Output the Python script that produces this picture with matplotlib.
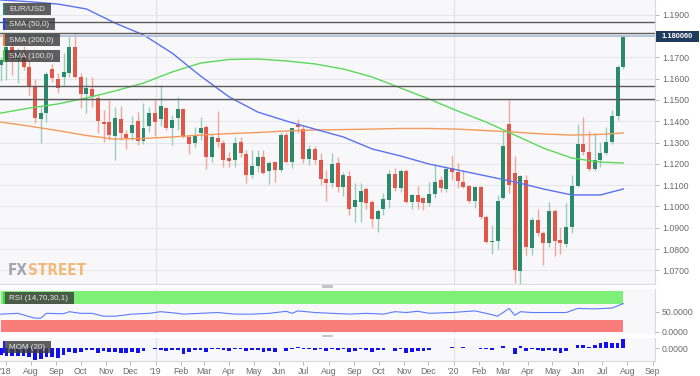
import matplotlib
matplotlib.use('Agg')
import matplotlib.pyplot as plt
import matplotlib.dates as mdates
from matplotlib.patches import Rectangle
from matplotlib import font_manager as fm
import numpy as np
import pandas as pd

# ---------------- data (weekly EUR/USD) ----------------
start_week = '2018-06-25'
opens = [1.1662, 1.1686, 1.1747, 1.1690, 1.1720, 1.1656, 1.1562, 1.1410, 1.1440, 1.1645,
         1.1598, 1.1609, 1.1625, 1.1750, 1.1606, 1.1526, 1.1551, 1.1510, 1.1398, 1.1395,
         1.1331, 1.1412, 1.1338, 1.1343, 1.1401, 1.1307, 1.1378, 1.1440, 1.1409, 1.1461,
         1.1367, 1.1414, 1.1456, 1.1324, 1.1296, 1.1343, 1.1374, 1.1233, 1.1319, 1.1299,
         1.1226, 1.1218, 1.1304, 1.1246, 1.1147, 1.1190, 1.1234, 1.1165, 1.1210, 1.1171,
         1.1334, 1.1210, 1.1380, 1.1365, 1.1225, 1.1271, 1.1218, 1.1127, 1.1111, 1.1205,
         1.1093, 1.1142, 1.0996, 1.1022, 1.1082, 1.1022, 1.0940, 1.0986, 1.1030, 1.1150,
         1.1085, 1.1166, 1.1022, 1.1054, 1.1038, 1.1017, 1.1058, 1.1124, 1.1080, 1.1179,
         1.1163, 1.1116, 1.1096, 1.1027, 1.1090, 1.0949, 1.0834, 1.0839, 1.1040, 1.1387,
         1.1156, 1.0698, 1.1124, 1.0807, 1.0937, 1.0874, 1.0827, 1.0980, 1.0842, 1.0823,
         1.0902, 1.1097, 1.1292, 1.1257, 1.1176, 1.1218, 1.1249, 1.1301, 1.1426, 1.1656]
highs = [1.1700, 1.1758, 1.1780, 1.1745, 1.1755, 1.1700, 1.1600, 1.1468, 1.1630, 1.1670,
         1.1625, 1.1719, 1.1805, 1.1813, 1.1625, 1.1609, 1.1609, 1.1523, 1.1455, 1.1500,
         1.1468, 1.1472, 1.1359, 1.1424, 1.1443, 1.1486, 1.1468, 1.1500, 1.1570, 1.1468,
         1.1429, 1.1514, 1.1460, 1.1335, 1.1374, 1.1420, 1.1380, 1.1339, 1.1449, 1.1312,
         1.1255, 1.1324, 1.1324, 1.1263, 1.1265, 1.1264, 1.1263, 1.1215, 1.1215, 1.1348,
         1.1348, 1.1370, 1.1412, 1.1380, 1.1287, 1.1282, 1.1250, 1.1170, 1.1250, 1.1230,
         1.1160, 1.1165, 1.1112, 1.1110, 1.1090, 1.1030, 1.0990, 1.1063, 1.1172, 1.1179,
         1.1175, 1.1176, 1.1060, 1.1097, 1.1045, 1.1117, 1.1200, 1.1144, 1.1190, 1.1239,
         1.1205, 1.1173, 1.1100, 1.1097, 1.1095, 1.0960, 1.0911, 1.1053, 1.1355, 1.1500,
         1.1236, 1.1147, 1.1147, 1.0952, 1.0990, 1.0887, 1.1019, 1.0990, 1.0905, 1.1017,
         1.1147, 1.1386, 1.1421, 1.1355, 1.1346, 1.1303, 1.1371, 1.1453, 1.1665, 1.1802]
lows = [1.1590, 1.1593, 1.1615, 1.1578, 1.1640, 1.1523, 1.1390, 1.1300, 1.1398, 1.1585,
        1.1531, 1.1570, 1.1609, 1.1601, 1.1460, 1.1437, 1.1468, 1.1343, 1.1304, 1.1312,
        1.1218, 1.1312, 1.1269, 1.1312, 1.1287, 1.1293, 1.1350, 1.1331, 1.1378, 1.1359,
        1.1289, 1.1359, 1.1322, 1.1245, 1.1278, 1.1312, 1.1176, 1.1210, 1.1281, 1.1183,
        1.1183, 1.1183, 1.1230, 1.1110, 1.1135, 1.1160, 1.1150, 1.1107, 1.1116, 1.1160,
        1.1202, 1.1181, 1.1345, 1.1206, 1.1193, 1.1200, 1.1101, 1.1027, 1.1093, 1.1066,
        1.1050, 1.0960, 1.0926, 1.0927, 1.0990, 1.0905, 1.0879, 1.0960, 1.0995, 1.1072,
        1.1070, 1.1014, 1.0989, 1.0990, 1.0981, 1.1000, 1.1040, 1.1066, 1.1070, 1.1125,
        1.1085, 1.1086, 1.1018, 1.0992, 1.0940, 1.0827, 1.0778, 1.0800, 1.1037, 1.1062,
        1.0640, 1.0636, 1.0772, 1.0770, 1.0860, 1.0727, 1.0811, 1.0766, 1.0775, 1.0812,
        1.0875, 1.1090, 1.1240, 1.1168, 1.1168, 1.1185, 1.1240, 1.1294, 1.1406, 1.1644]
closes = [1.1686, 1.1747, 1.1690, 1.1720, 1.1656, 1.1562, 1.1414, 1.1440, 1.1622, 1.1601,
          1.1554, 1.1630, 1.1750, 1.1606, 1.1526, 1.1557, 1.1518, 1.1402, 1.1387, 1.1336,
          1.1417, 1.1343, 1.1320, 1.1381, 1.1309, 1.1370, 1.1440, 1.1398, 1.1471, 1.1367,
          1.1406, 1.1456, 1.1324, 1.1293, 1.1335, 1.1367, 1.1233, 1.1327, 1.1304, 1.1218,
          1.1215, 1.1299, 1.1249, 1.1147, 1.1190, 1.1234, 1.1158, 1.1205, 1.1171, 1.1334,
          1.1210, 1.1369, 1.1372, 1.1225, 1.1271, 1.1220, 1.1127, 1.1108, 1.1199, 1.1093,
          1.1146, 1.0989, 1.1030, 1.1074, 1.1017, 1.0940, 1.0980, 1.1033, 1.1150, 1.1085,
          1.1166, 1.1022, 1.1054, 1.1022, 1.1017, 1.1058, 1.1116, 1.1085, 1.1174, 1.1163,
          1.1121, 1.1093, 1.1027, 1.1090, 1.0949, 1.0834, 1.0840, 1.1027, 1.1286, 1.1100,
          1.0701, 1.1143, 1.0811, 1.0937, 1.0874, 1.0827, 1.0980, 1.0839, 1.0827, 1.0902,
          1.1097, 1.1292, 1.1257, 1.1175, 1.1218, 1.1249, 1.1301, 1.1426, 1.1656, 1.1800]

# moving averages read at sampled weeks
sma_idx = [0, 5, 10, 15, 20, 25, 30, 35, 40, 45, 50, 55, 60, 65, 70, 75, 80, 85, 90, 95, 100, 105, 109]
sma50 = [1.1969, 1.1961, 1.1950, 1.1927, 1.1861, 1.1805, 1.1720, 1.1612, 1.1514, 1.1443, 1.1401, 1.1363,
         1.1326, 1.1270, 1.1237, 1.1199, 1.1171, 1.1143, 1.1115, 1.1082, 1.1054, 1.1054, 1.1082]
sma100 = [1.1438, 1.1462, 1.1481, 1.1509, 1.1542, 1.1579, 1.1631, 1.1673, 1.1690, 1.1692, 1.1683, 1.1669,
          1.1645, 1.1608, 1.1556, 1.1504, 1.1448, 1.1396, 1.1335, 1.1274, 1.1227, 1.1208, 1.1204]
sma200 = [1.1396, 1.1377, 1.1356, 1.1333, 1.1316, 1.1319, 1.1326, 1.1335, 1.1342, 1.1347, 1.1354, 1.1359,
          1.1361, 1.1363, 1.1366, 1.1366, 1.1363, 1.1356, 1.1349, 1.1340, 1.1335, 1.1338, 1.1345]

# horizontal levels
levels_dark = [1.1865, 1.1813, 1.1565, 1.1503]
last_price = 1.1800
last_label = '1.180060'

# RSI readings
rsi_idx = [0, 3, 6, 7, 8, 11, 12, 14, 16, 18, 20, 23, 26, 28, 31, 32, 35, 38, 41, 44, 47, 50, 51, 52,
           55, 58, 61, 64, 67, 69, 71, 73, 75, 79, 83, 85, 87, 89, 90, 91, 93, 95, 97, 99, 101, 104, 107, 109]
rsi_val = [44, 46, 34, 34, 46, 45, 50, 46, 46, 39, 39, 44, 46, 50, 46, 44, 46, 48, 44, 44, 46, 51, 46, 52,
           48, 46, 44, 46, 44, 50, 48, 51, 46, 48, 52, 46, 39, 58, 41, 50, 48, 48, 48, 48, 58, 57, 59, 70]

# Momentum(20): first 20 bars, rest from closes
mom_first = [-0.055, -0.062, -0.060, -0.060, -0.065, -0.072, -0.090, -0.088, -0.066, -0.072,
             -0.074, -0.052, -0.030, -0.035, -0.028, -0.014, -0.016, -0.035, -0.022, -0.032]

month_labels = ["'18", 'Aug', 'Sep', 'Oct', 'Nov', 'Dec', "'19", 'Feb', 'Mar', 'Apr', 'May', 'Jun', 'Jul',
                'Aug', 'Sep', 'Oct', 'Nov', 'Dec', "'20", 'Feb', 'Mar', 'Apr', 'May', 'Jun', 'Jul', 'Aug', 'Sep']

legend_names = ['EUR/USD', 'SMA (50,0)', 'SMA (200,0)', 'SMA (100,0)', 'RSI (14,70,30,1)', 'MOM (20)']

# ---------------- figure ----------------
W, H = 700, 376
plt.rcParams['font.family'] = ['Liberation Sans', 'DejaVu Sans']
fig = plt.figure(figsize=(7, 3.76), dpi=100)
fig.patch.set_facecolor('white')


def axes_px(x0, y0, x1, y1):
    return fig.add_axes([x0 / W, 1 - y1 / H, (x1 - x0) / W, (y1 - y0) / H])


ax = axes_px(0, 0, 655, 284)
axr = axes_px(0, 289, 655, 334)
axm = axes_px(0, 338, 655, 361)

o = np.array(opens); h = np.array(highs); l = np.array(lows); c = np.array(closes)
weeks = pd.date_range(start_week, periods=len(c), freq='7D')
xd = mdates.date2num(weeks)
px_per_day = 0.816
x_left = xd[0] - 0.7 / px_per_day
x_right = x_left + 655 / px_per_day

bg = '#f8f8fa'
grid_c = '#e6e6ea'
for a in (ax, axr, axm):
    a.set_facecolor(bg)
    a.set_xlim(x_left, x_right)
    for s in ('top', 'left', 'bottom'):
        a.spines[s].set_visible(False)
    a.spines['right'].set_color('#d8d8de')
    a.spines['right'].set_linewidth(0.8)
    a.yaxis.tick_right()
    a.tick_params(axis='y', direction='out', length=3, width=0.6, color='#b0b0b0',
                  labelsize=6.3, labelcolor='#6a6a6a', pad=2)
    a.tick_params(axis='x', bottom=False, labelbottom=False)
    for yr in ('2019-01-01', '2020-01-01'):
        a.axvline(mdates.date2num(pd.Timestamp(yr)), color='#e2e2e6', lw=0.8, zorder=0)

ax.spines['bottom'].set_visible(True)
ax.spines['bottom'].set_color('#dcdce0')
ax.spines['bottom'].set_linewidth(0.8)

# --- main price panel ---
ax.set_ylim(1.0636, 1.1969)
yt = np.round(np.arange(1.07, 1.1901, 0.01), 2)
ax.set_yticks(yt)
# the 1.1800 label sits under the last-price tag
ax.set_yticklabels(['' if abs(v - 1.18) < 1e-9 else f'{v:.4f}' for v in yt])
ax.grid(axis='y', color=grid_c, lw=0.8, zorder=0)
ax.set_axisbelow(True)

up = c >= o
body_col = np.where(up, '#2b8a6c', '#e1584a')
wick_col = np.where(up, '#98cdb9', '#f1a69d')
ax.vlines(xd, l, h, colors=wick_col, lw=1.0, zorder=2)
body_h = np.maximum(np.abs(c - o), 0.00035)
ax.bar(xd, body_h, bottom=np.minimum(o, c), width=4.9, color=body_col, linewidth=0, zorder=3)

sx = mdates.date2num(weeks[sma_idx])
ax.plot(sx, sma200, color='#f39a5c', lw=1.0, zorder=4)
ax.plot(sx, sma100, color='#5ad85a', lw=1.0, zorder=4)
ax.plot(sx, sma50, color='#5a72f0', lw=1.0, zorder=4)

for lv in levels_dark:
    ax.axhline(lv, color='#5a5a5a', lw=1.0, zorder=5)
ax.axhline(last_price, color='#b4c4dc', lw=1.4, zorder=5)

# --- RSI panel ---
axr.set_ylim(-5, 106)
axr.fill_between([xd[0], xd[-1]], 70, 100, color='#7ef07a', lw=0, zorder=1)
axr.fill_between([xd[0], xd[-1]], 0, 30, color='#f87d7a', lw=0, zorder=1)
axr.plot(mdates.date2num(weeks[rsi_idx]), rsi_val, color='#5a7bff', lw=0.8, zorder=3)
axr.set_yticks([0, 50])
axr.set_yticklabels(['0.0000', '50.0000'])

# --- Momentum panel ---
mom = np.concatenate([np.array(mom_first), c[20:] - c[:-20]])
axm.set_ylim(-0.100, 0.077)
axm.bar(xd, mom, width=4.6, color='#1010f0', linewidth=0, zorder=3)
axm.set_yticks([0])
axm.set_yticklabels(['0.0000'])
axm.spines['bottom'].set_visible(True)
axm.spines['bottom'].set_color('#d8d8de')
mt = pd.date_range('2018-07-01', periods=len(month_labels), freq='MS')
axm.set_xticks(mdates.date2num(mt))
axm.set_xticklabels(month_labels)
axm.tick_params(axis='x', bottom=True, labelbottom=True, direction='out', length=3, width=0.6,
                color='#b0b0b0', labelsize=6.3, labelcolor='#6a6a6a', pad=1.5)
for t in axm.get_xticklabels():
    t.set_clip_on(False)

# ---------------- overlays in pixel coordinates ----------------
def rect_px(x0, y0, x1, y1, **kw):
    fig.add_artist(Rectangle((x0 / W, 1 - y1 / H), (x1 - x0) / W, (y1 - y0) / H,
                             transform=fig.transFigure, **kw))


def text_px(x, y, s, **kw):
    return fig.text(x / W, 1 - y / H, s, **kw)


renderer = fig.canvas.get_renderer()

legend_cols = ['#2b8a6c', '#2040ff', '#f07a30', '#3ed43e', '#30e030', '#2020ff']
legend_y = [(2.5, 15), (18.5, 30), (33.5, 46), (49.5, 62), (292, 304), (340.5, 353)]
legend_minw = [49, 52, 55, 55, 66, 49]
for name, col, (y0, y1), mw in zip(legend_names, legend_cols, legend_y, legend_minw):
    t = text_px(9, (y0 + y1) / 2 + 0.3, name, color='#e8e8e8', fontsize=5.8, va='center', ha='left', zorder=12)
    tw = t.get_window_extent(renderer).x1
    x1 = max(mw, tw + 6)
    rect_px(2.5, y0, x1, y1, facecolor='#3c3c3c', alpha=0.82, edgecolor='none', zorder=10)
    rect_px(2.5, y0, 4.5, y1, facecolor=col, edgecolor='none', zorder=11)

# last price tag
rect_px(656, 31, 699, 41.5, facecolor='#1f3a5c', edgecolor='none', zorder=10)
text_px(677.5, 36.4, last_label, color='white', fontsize=5.4, fontweight='bold', ha='center', va='center', zorder=11)

# panel handles
rect_px(322, 285.3, 333, 287.8, facecolor='#c4c4c8', edgecolor='none', zorder=10)
rect_px(322, 334.8, 333, 337.3, facecolor='#c4c4c8', edgecolor='none', zorder=10)

# watermark: pick a condensed bold face if one is installed
cond_path = None
for f in fm.fontManager.ttflist:
    nm = f.fname.lower()
    if ('condensed' in nm or 'narrow' in nm) and 'bold' in nm and 'oblique' not in nm and 'italic' not in nm:
        cond_path = f.fname
        break
if cond_path:
    wm_fp = fm.FontProperties(fname=cond_path)
else:
    wm_fp = fm.FontProperties(family='Liberation Sans', weight='bold')
wm_size = 14.0
wm_fp.set_size(wm_size)
t_fx = text_px(8, 275, 'FX', color='#9c9ca8', fontproperties=wm_fp, ha='left', va='baseline', alpha=0.9, zorder=9)
t_st = text_px(8, 275, 'STREET', color='#f2b36a', fontproperties=wm_fp, ha='left', va='baseline', alpha=0.9, zorder=9)
total = t_fx.get_window_extent(renderer).width + t_st.get_window_extent(renderer).width
scale = min(1.0, 78.0 / total)
wm_fp.set_size(wm_size * scale)
t_fx.set_fontproperties(wm_fp)
t_st.set_fontproperties(wm_fp)
fx_w = t_fx.get_window_extent(renderer).width
t_st.set_position(((8 + fx_w) / W, 1 - 275 / H))

fig.savefig('out.png', dpi=100, facecolor='white')
